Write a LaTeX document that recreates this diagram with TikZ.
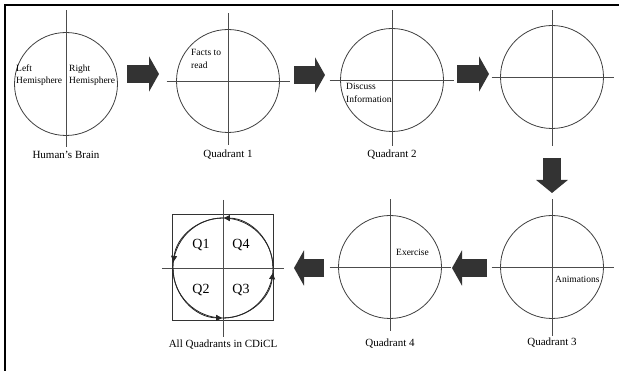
\documentclass[tikz,border=0pt]{standalone}
\usepackage{fontspec}
\setmainfont{Liberation Serif}
\usetikzlibrary{arrows.meta}

\tikzset{
  disc/.style={draw=black!75, line width=0.8pt, circle, minimum size=103pt, inner sep=0pt, outer sep=0pt},
  axis/.style={draw=black!70, line width=0.8pt},
  blockarrow/.style={draw=black!80, line width=18pt, -{Triangle[length=10pt,width=35pt]}},
  downarrow/.style={draw=black!80, line width=18pt, -{Triangle[length=13pt,width=31pt]}},
  cycarrow/.style={draw=black!85, line width=0.8pt, -{Triangle[length=6pt,width=6pt]}},
  caption/.style={font=\fontsize{11}{13}\selectfont},
  note/.style={font=\fontsize{9.5}{12.5}\selectfont, align=left, anchor=west, inner sep=0pt},
  qtext/.style={font=\fontsize{14}{16}\selectfont}
}

\begin{document}
\begin{tikzpicture}[x=1pt,y=-1pt]
\useasboundingbox (0,0) rectangle (619,371);
\draw[line width=1.2pt] (619,5) -- (5,5) -- (5,371);

% top row
\node[disc] (brain) at (66,84) {};
\draw[axis] ([yshift=22pt]brain.north) -- ([yshift=-12pt]brain.south);
\node[note] (lefth) at (16,75) {Left\\Hemisphere};
\node[note] (righth) at (69,75) {Right\\Hemisphere};
\node[caption] (brainc) at (66,155) {Human's Brain};

\node[disc] (q1) at (228,81) {};
\draw[axis] ([xshift=-10pt]q1.west) -- ([xshift=10pt]q1.east);
\draw[axis] ([yshift=16pt]q1.north) -- ([yshift=-13pt]q1.south);
\node[note] (facts) at (191,59) {Facts to\\read};
\node[caption] (q1c) at (228,155) {Quadrant 1};

\node[disc] (q2) at (392,80) {};
\draw[axis] ([xshift=-11pt]q2.west) -- ([xshift=10pt]q2.east);
\draw[axis] ([yshift=18pt]q2.north) -- ([yshift=-15pt]q2.south);
\node[note] (discuss) at (346,93) {Discuss\\Information};
\node[caption] (q2c) at (392,155) {Quadrant 2};

\node[disc] (blank) at (552,77) {};
\draw[axis] ([xshift=-9pt]blank.west) -- ([xshift=10pt]blank.east);
\draw[axis] ([yshift=15pt]blank.north) -- ([yshift=-18pt]blank.south);

% bottom row
\node[disc] (q3) at (552,267) {};
\draw[axis] ([xshift=-9pt]q3.west) -- ([xshift=10pt]q3.east);
\draw[axis] ([yshift=16pt]q3.north) -- ([yshift=-18pt]q3.south);
\node[note] (anim) at (555,279) {Animations};
\node[caption] (q3c) at (552,343) {Quadrant 3};

\node[disc] (q4) at (390,267) {};
\draw[axis] ([xshift=-9pt]q4.west) -- ([xshift=9pt]q4.east);
\draw[axis] ([yshift=16pt]q4.north) -- ([yshift=-13pt]q4.south);
\node[note] (exer) at (396,252) {Exercise};
\node[caption] (q4c) at (390,344) {Quadrant 4};

\draw[draw=black!80, line width=0.8pt] (172,214) rectangle (273,320);
\node[circle, minimum size=100pt, inner sep=0pt] (all) at (223,268) {};
\draw[axis] ([xshift=-11pt]all.west) -- ([xshift=11pt]all.east);
\draw[axis] ([yshift=18pt]all.north) -- ([yshift=-19pt]all.south);
\draw[draw=black!85, line width=0.8pt] (all) circle[radius=50];
\draw[cycarrow] (173,268) arc[start angle=180, end angle=91, radius=50];
\draw[cycarrow] (223,318) arc[start angle=90, end angle=6, radius=50];
\draw[cycarrow] (273,268) arc[start angle=0, end angle=-89, radius=50];
\draw[cycarrow] (223,218) arc[start angle=-90, end angle=-173, radius=50];
\node[qtext] (tq1) at (201,245) {Q1};
\node[qtext] (tq4) at (241,245) {Q4};
\node[qtext] (tq2) at (201,290) {Q2};
\node[qtext] (tq3) at (241,290) {Q3};
\node[caption] (allc) at (223,345) {All Quadrants in CDiCL};

% block arrows between the circles
\coordinate (ba1s) at (127,74);
\coordinate (ba1e) at (159,74);
\coordinate (ba2s) at (294,75);
\coordinate (ba2e) at (325,75);
\coordinate (ba3s) at (457,74);
\coordinate (ba3e) at (489,74);
\coordinate (ba4s) at (552,158);
\coordinate (ba4e) at (552,193);
\coordinate (ba5s) at (487,268);
\coordinate (ba5e) at (452,268);
\coordinate (ba6s) at (324,268);
\coordinate (ba6e) at (294,268);
\draw[blockarrow] (ba1s) -- (ba1e);
\draw[blockarrow] (ba2s) -- (ba2e);
\draw[blockarrow] (ba3s) -- (ba3e);
\draw[downarrow] (ba4s) -- (ba4e);
\draw[blockarrow] (ba5s) -- (ba5e);
\draw[blockarrow] (ba6s) -- (ba6e);
\end{tikzpicture}
\end{document}
